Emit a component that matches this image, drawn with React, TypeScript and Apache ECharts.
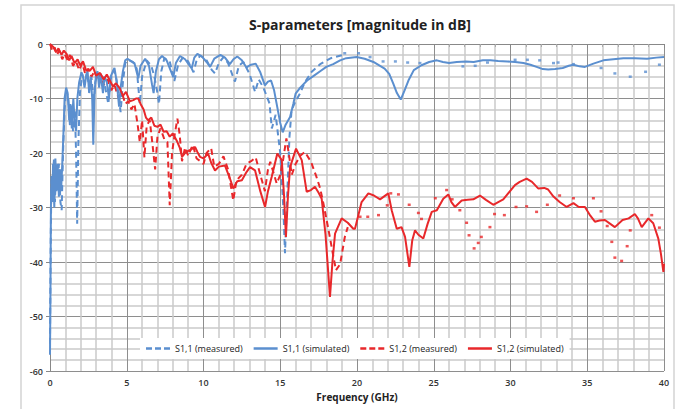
import React, { useEffect, useRef } from "react";
import * as echarts from "echarts";

const TITLE = "S-parameters [magnitude in dB]";
const X_NAME = "Frequency (GHz)";
const LEGEND_NAMES = ["S1,1 (measured)", "S1,1 (simulated)", "S1,2 (measured)", "S1,2 (simulated)"];

const s11Simulated: [number, number][] = [
  [0,-57],[0.03,-45],[0.06,-30],[0.1,-25],[0.15,-29],[0.2,-22],[0.28,-30],[0.35,-21],[0.42,-27],[0.5,-22],[0.58,-28],[0.65,-23],[0.72,-27],[0.8,-22],[0.88,-16],[0.95,-10],[1.05,-8],[1.15,-9],[1.25,-14],[1.33,-11],[1.42,-15.5],[1.52,-10],[1.6,-14],[1.7,-16],[1.78,-10],[1.9,-7],[2.05,-5.2],[2.15,-6],[2.25,-8],[2.35,-6],[2.45,-5],[2.55,-9],[2.65,-6],[2.75,-10],[2.82,-18.5],[2.9,-9],[3.0,-5.5],[3.1,-5],[3.2,-8],[3.3,-5.5],[3.45,-9],[3.55,-6],[3.7,-7],[3.85,-10],[3.95,-6],[4.1,-5],[4.2,-4.4],[4.35,-7],[4.5,-11.5],[4.6,-8],[4.75,-5],[4.9,-3],[5.05,-2.7],[5.3,-3.2],[5.5,-3.5],[5.75,-6.3],[5.9,-4],[6.2,-2.7],[6.45,-4],[6.65,-7.5],[6.75,-9],[6.9,-5],[7.1,-2.8],[7.3,-2.2],[7.6,-3],[7.85,-4.8],[8.03,-6.1],[8.2,-3.5],[8.47,-2.2],[8.8,-2.8],[9.05,-3.8],[9.23,-4.5],[9.4,-2.5],[9.6,-1.8],[9.9,-2.3],[10.2,-3.3],[10.43,-4.2],[10.7,-2.7],[11.1,-2],[11.4,-2.5],[11.72,-3.7],[11.95,-2.8],[12.2,-2.3],[12.5,-3],[12.8,-4.3],[13.1,-3.8],[13.4,-3.6],[13.7,-5.2],[14.0,-7.6],[14.2,-6.9],[14.4,-6.7],[14.6,-8.5],[14.8,-11.5],[15.0,-14.5],[15.16,-16.2],[15.35,-14.8],[15.64,-13.4],[15.85,-11],[16.0,-9.1],[16.3,-8],[16.75,-6.7],[17.2,-5.8],[17.6,-5],[18.0,-4.2],[18.45,-3.7],[18.9,-3],[19.3,-2.6],[19.98,-2.4],[20.5,-2.7],[21.07,-3.3],[21.8,-4.5],[22.1,-5.5],[22.37,-7.3],[22.6,-9],[22.85,-10.2],[23.1,-8.5],[23.35,-6.7],[23.7,-4.8],[24.2,-3.9],[24.7,-3.3],[25.2,-3.0],[25.6,-3.3],[26.0,-3.5],[26.5,-3.3],[27.1,-3.2],[27.6,-3.3],[28.2,-3.0],[28.7,-3.0],[29.2,-3.1],[29.8,-3.2],[30.3,-3.3],[30.84,-3.5],[31.3,-3.8],[31.7,-4.2],[32.1,-4.6],[32.46,-4.7],[32.9,-4.6],[33.4,-4.4],[33.8,-4.0],[34.1,-3.8],[34.5,-4.1],[34.85,-4.2],[35.4,-3.6],[36.05,-3.0],[36.7,-2.8],[37.35,-2.6],[38.1,-2.6],[38.9,-2.7],[39.5,-2.5],[40,-2.4]
];

const s11Measured: [number, number][] = [
  [0,-55],[0.05,-35],[0.1,-24],[0.18,-28],[0.25,-21],[0.32,-29],[0.4,-23],[0.5,-27],[0.58,-22],[0.68,-29],[0.76,-30.5],[0.85,-20],[0.95,-12],[1.05,-8.5],[1.2,-10],[1.3,-15],[1.4,-11],[1.5,-16],[1.62,-12],[1.7,-20],[1.77,-33],[1.85,-18],[1.95,-9],[2.1,-5.5],[2.25,-7.5],[2.4,-5.2],[2.55,-8],[2.7,-6],[2.85,-11],[2.95,-7],[3.1,-5.5],[3.25,-7],[3.4,-5.5],[3.6,-8],[3.8,-11],[3.95,-6.5],[4.15,-4.8],[4.3,-6],[4.45,-9],[4.6,-12.5],[4.75,-7],[4.9,-3.5],[5.1,-2.9],[5.4,-3.3],[5.65,-4.5],[5.85,-11],[6.0,-6],[6.3,-3],[6.6,-4],[6.8,-6],[7.0,-9],[7.1,-11],[7.25,-5],[7.45,-2.6],[7.8,-3.2],[8.1,-6.8],[8.35,-3.8],[8.65,-2.5],[9.0,-3.2],[9.35,-5.2],[9.55,-3],[9.8,-2.1],[10.2,-3],[10.55,-4.8],[10.75,-5.4],[11.0,-3.5],[11.3,-2.4],[11.6,-3.5],[11.9,-5.8],[12.05,-6.9],[12.3,-4],[12.6,-3.3],[13.0,-5.5],[13.36,-8.8],[13.6,-6.5],[13.9,-8],[14.3,-10.9],[14.45,-15.5],[14.7,-13],[15.0,-20],[15.2,-30],[15.31,-38.4],[15.45,-28],[15.6,-17],[15.74,-12.1],[16.0,-10.5],[16.3,-9],[16.6,-7],[17.05,-5.1],[17.6,-3.7],[18.3,-2.6],[19.1,-2.0]
];

const s11MeasuredSparse: [number, number][] = [
  [19.2,-1.7],[20.1,-1.7],[20.85,-2.4],[21.7,-3.2],[22.5,-3.2],[23.3,-3.4],[24.1,-3.5],[26.9,-4.1],[27.7,-4.0],[28.5,-3.4],[30.3,-2.9],[31.1,-2.9],[31.9,-3.0],[32.8,-3.5],[33.1,-3.4],[34.1,-3.7],[35.9,-4.4],[36.8,-5.4],[37.8,-6.0],[38.8,-5.1],[39.7,-3.8]
];

const s12Simulated: [number, number][] = [
  [0,0],[0.2,-0.5],[0.4,-1.5],[0.55,-0.8],[0.75,-2],[0.9,-1.2],[1.08,-1.8],[1.25,-3],[1.4,-2.2],[1.6,-3.5],[1.8,-2.8],[1.96,-3.9],[2.15,-3.2],[2.35,-4.8],[2.6,-4.9],[2.8,-4.2],[3.0,-5.8],[3.26,-5.3],[3.5,-6.5],[3.7,-5.6],[3.9,-6.7],[4.1,-7.8],[4.3,-7.2],[4.56,-8.2],[4.75,-9.5],[4.95,-8.8],[5.2,-10.5],[5.43,-10.3],[5.6,-10],[5.75,-10],[5.9,-11],[6.1,-12],[6.25,-13.5],[6.4,-14],[6.6,-13.5],[6.8,-15],[7.0,-15.2],[7.2,-14.8],[7.4,-16.1],[7.6,-16],[7.8,-17],[8.0,-16.4],[8.25,-17.7],[8.45,-19],[8.6,-20.7],[8.85,-19.8],[9.1,-19.5],[9.45,-18.9],[9.6,-19.8],[9.77,-20.7],[10.0,-21],[10.3,-20.1],[10.5,-21.8],[10.75,-23.2],[11.0,-22.5],[11.4,-22.3],[11.7,-24.5],[11.94,-26.5],[12.2,-25.2],[12.5,-25],[12.8,-23.5],[13.03,-22.6],[13.36,-23.2],[13.7,-27],[14.01,-29.9],[14.2,-27],[14.44,-24.4],[14.81,-20.1],[15.1,-21.3],[15.25,-28],[15.37,-35.4],[15.5,-28],[15.64,-22.6],[16.03,-19.2],[16.4,-21.3],[16.72,-27.1],[17.0,-26.8],[17.26,-26.2],[17.5,-27.3],[17.7,-28.4],[17.95,-35],[18.24,-46.4],[18.4,-40],[18.57,-34.8],[19.0,-32],[19.4,-32.8],[19.76,-33.9],[19.87,-33.9],[20.3,-29],[20.74,-27.4],[21.1,-27.8],[21.5,-28.5],[22.04,-27.4],[22.26,-30.5],[22.59,-33.9],[22.9,-33.6],[23.13,-35.4],[23.41,-40.9],[23.6,-36],[23.78,-34.2],[24.0,-35],[24.32,-35.7],[24.6,-33],[24.87,-30.8],[25.2,-30.5],[25.62,-28.4],[25.95,-27.6],[26.15,-29],[26.38,-29.9],[26.82,-28.7],[27.2,-28.6],[27.58,-28.5],[28.01,-27.8],[28.4,-28.6],[28.88,-29.5],[29.2,-29],[29.53,-28.5],[30.29,-25.9],[30.6,-25.3],[31.05,-24.7],[31.4,-25.3],[31.8,-26.5],[32.2,-26.4],[32.45,-26.7],[32.8,-28],[33.2,-29],[33.66,-29.9],[34.1,-29.2],[34.45,-29.9],[34.85,-29.9],[35.2,-31.5],[35.5,-32.6],[35.8,-32.4],[36.15,-32.3],[36.5,-33],[36.8,-33.6],[37.3,-32.3],[37.7,-32],[38.1,-31.2],[38.3,-32],[38.55,-33.6],[38.98,-32],[39.3,-32.9],[39.63,-35.7],[39.8,-38.5],[39.96,-41.8],[40,-40.3]
];

const s12Measured: [number, number][] = [
  [0,0],[0.15,-1.2],[0.3,-0.6],[0.45,-2],[0.6,-1.2],[0.8,-2.8],[0.95,-1.8],[1.15,-3],[1.3,-2],[1.5,-4],[1.7,-3.2],[1.9,-4.8],[2.1,-3.5],[2.3,-5.5],[2.5,-4.5],[2.7,-6],[2.9,-5],[3.1,-6.5],[3.3,-5.5],[3.5,-7.5],[3.75,-6.5],[4.0,-8.5],[4.2,-7.5],[4.45,-9.8],[4.7,-9],[4.9,-11],[5.1,-10.5],[5.3,-12],[5.5,-11],[5.7,-14.6],[5.85,-18],[6.0,-14],[6.15,-20.8],[6.3,-15],[6.5,-14],[6.7,-19],[6.85,-23],[7.0,-17],[7.2,-15.5],[7.45,-17.5],[7.65,-18],[7.8,-29.6],[7.95,-20],[8.1,-17],[8.3,-13.7],[8.45,-16.7],[8.6,-21.5],[8.8,-19],[9.0,-20.5],[9.3,-18.5],[9.55,-21],[9.8,-21.5],[10.0,-22],[10.2,-20],[10.5,-19.1],[10.7,-22.5],[11.0,-22],[11.3,-20.6],[11.6,-23],[11.94,-28.7],[12.15,-25],[12.5,-24],[12.8,-22],[13.1,-21.5],[13.4,-20.8],[13.7,-24],[14.0,-27],[14.2,-23],[14.35,-21.6],[14.6,-24],[14.77,-25.6],[15.0,-24],[15.2,-21],[15.4,-17.3],[15.55,-20],[15.75,-24],[16.0,-22],[16.3,-20.5],[16.6,-19.8],[17.0,-21.6],[17.35,-24.3],[17.6,-26.5],[17.8,-29.1],[18.13,-33.9],[18.45,-38.8],[18.63,-41.5],[18.9,-40.4],[19.2,-35.5],[19.4,-33.6]
];

const s12MeasuredSparse: [number, number][] = [
  [20.2,-31.7],[20.7,-31.7],[21.4,-31.4],[21.97,-29.6],[22.2,-27.4],[22.7,-27.6],[23.4,-29.5],[24.0,-31],[24.2,-32.1],[25.1,-28.3],[25.84,-26.8],[26.2,-28.5],[26.7,-30.5],[27.14,-32.8],[27.3,-35.1],[27.63,-37.5],[27.9,-36.5],[28.1,-35.4],[28.66,-33.6],[28.96,-31.2],[29.6,-31.4],[30.36,-29.9],[31.05,-29.8],[31.7,-30.8],[32.4,-29.5],[33.2,-27.8],[34.1,-28.3],[35.4,-28.3],[35.9,-30.7],[36.3,-33.4],[36.6,-36.3],[36.8,-39.2],[37.24,-39.8],[37.6,-37.1],[37.8,-34.2],[39.2,-31.4],[39.7,-33.7]
];

const BLUE = "#5B8FCF";
const RED = "#E8282B";
const FONT = "'Open Sans', 'Noto Sans', sans-serif";
const ICON_DASHED = "path://M0,0h6v2.5h-6z M9,0h6v2.5h-6z M18,0h6v2.5h-6z";
const ICON_SOLID = "path://M0,0h24v2.5h-24z";

export default function App() {
  const ref = useRef<HTMLDivElement>(null);
  useEffect(() => {
    if (!ref.current) return;
    const chart = echarts.init(ref.current, undefined, { renderer: "svg" });
    const dashed = [6, 4];
    chart.setOption({
      animation: false,
      backgroundColor: "#ffffff",
      title: {
        text: TITLE,
        left: 355,
        textAlign: "center",
        top: 12,
        textStyle: { fontFamily: FONT, fontSize: 14, fontWeight: 700, color: "#222" },
      },
      graphic: [
        {
          type: "rect",
          shape: { x: 21, y: 5, width: 653, height: 410 },
          style: { fill: "none", stroke: "#d4d4d4", lineWidth: 1.5 },
          silent: true,
        },
      ],
      grid: { left: 50, top: 44, right: 23, bottom: 38 },
      legend: {
        data: [
          { name: LEGEND_NAMES[0], icon: ICON_DASHED },
          { name: LEGEND_NAMES[1], icon: ICON_SOLID },
          { name: LEGEND_NAMES[2], icon: ICON_DASHED },
          { name: LEGEND_NAMES[3], icon: ICON_SOLID },
        ],
        left: 140,
        top: 338,
        backgroundColor: "#ffffff",
        padding: [6, 6, 6, 6],
        itemGap: 11,
        itemWidth: 24,
        itemHeight: 2.5,
        textStyle: { fontFamily: FONT, fontSize: 9, color: "#222" },
      },
      xAxis: {
        type: "value",
        min: 0,
        max: 40,
        interval: 5,
        name: X_NAME,
        nameLocation: "middle",
        nameGap: 21,
        nameTextStyle: { fontFamily: FONT, fontSize: 10, fontWeight: 700, color: "#222" },
        axisLine: { show: true, lineStyle: { color: "#888", width: 1 } },
        axisTick: { show: true, length: 4, lineStyle: { color: "#888" } },
        minorTick: { show: true, splitNumber: 5, length: 3, lineStyle: { color: "#aaa" } },
        axisLabel: { fontFamily: FONT, fontSize: 9, fontWeight: 600, color: "#333", margin: 7 },
        splitLine: { show: true, lineStyle: { color: "#8e8e8e", width: 1 } },
        minorSplitLine: { show: true, lineStyle: { color: "#cacaca", width: 1.5 } },
      },
      yAxis: {
        type: "value",
        min: -60,
        max: 0,
        interval: 10,
        axisLine: { show: true, lineStyle: { color: "#888", width: 1 } },
        axisTick: { show: true, length: 4, lineStyle: { color: "#888" } },
        minorTick: { show: false, splitNumber: 5 },
        axisLabel: { fontFamily: FONT, fontSize: 9, fontWeight: 600, color: "#333", margin: 7 },
        splitLine: { show: true, lineStyle: { color: "#8e8e8e", width: 1 } },
        minorSplitLine: { show: true, lineStyle: { color: "#cacaca", width: 1.5 } },
      },
      series: [
        {
          name: LEGEND_NAMES[0],
          type: "line",
          data: s11Measured,
          showSymbol: false,
          symbol: "none",
          color: BLUE,
          lineStyle: { color: BLUE, width: 2, type: dashed },
          z: 3,
        },
        {
          name: LEGEND_NAMES[1],
          type: "line",
          data: s11Simulated,
          showSymbol: false,
          symbol: "none",
          color: BLUE,
          lineStyle: { color: BLUE, width: 2 },
          z: 4,
        },
        {
          name: LEGEND_NAMES[2],
          type: "line",
          data: s12Measured,
          showSymbol: false,
          symbol: "none",
          color: RED,
          lineStyle: { color: RED, width: 2, type: dashed },
          z: 3,
        },
        {
          name: LEGEND_NAMES[3],
          type: "line",
          data: s12Simulated,
          showSymbol: false,
          symbol: "none",
          color: RED,
          lineStyle: { color: RED, width: 2 },
          z: 4,
        },
        {
          name: "s11-measured-points",
          type: "scatter",
          data: s11MeasuredSparse,
          symbol: "rect",
          symbolSize: [3, 2.5],
          itemStyle: { color: BLUE },
          z: 3,
        },
        {
          name: "s12-measured-points",
          type: "scatter",
          data: s12MeasuredSparse,
          symbol: "rect",
          symbolSize: [3, 2.5],
          itemStyle: { color: RED },
          z: 3,
        },
      ],
    });
    return () => chart.dispose();
  }, []);
  return (
    <div
      ref={ref}
      style={{ position: "fixed", left: 0, top: 0, width: 687, height: 409 }}
    />
  );
}
